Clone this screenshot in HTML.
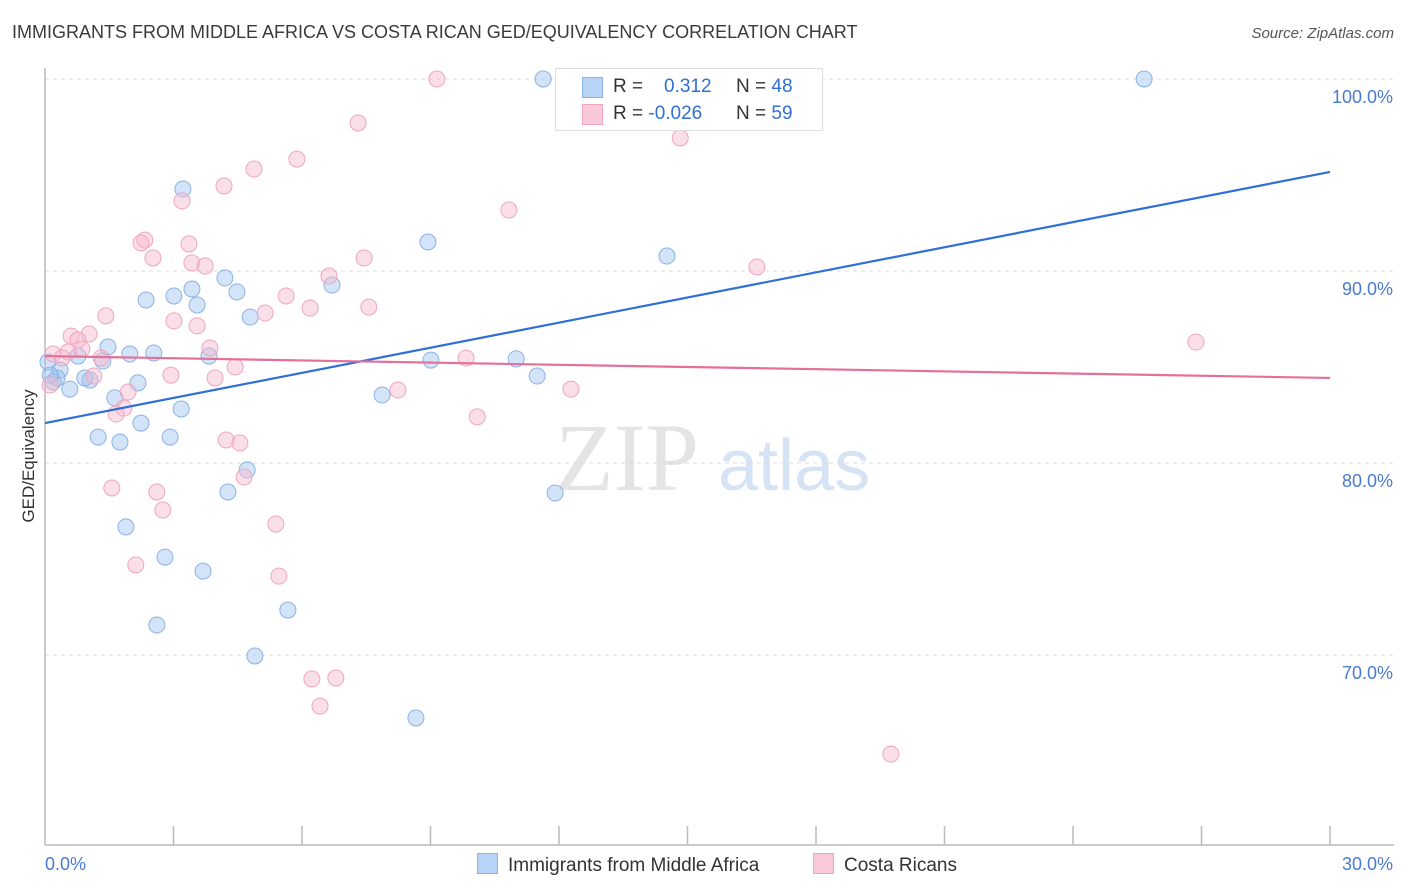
<!DOCTYPE html>
<html><head><meta charset="utf-8">
<style>
body{margin:0;background:#fff;font-family:"Liberation Sans",sans-serif;}
#wrap{position:relative;width:1406px;height:892px;overflow:hidden;}
.t{position:absolute;white-space:nowrap;}
</style></head>
<body>
<div id="wrap">
<div class="t" style="left:12px;top:22px;font-size:18px;color:#3a3a3a;">IMMIGRANTS FROM MIDDLE AFRICA VS COSTA RICAN GED/EQUIVALENCY CORRELATION CHART</div>
<div class="t" style="right:12px;top:25px;font-size:15px;color:#555;font-style:italic;">Source: ZipAtlas.com</div>
<svg id="plot" width="1406" height="892" style="position:absolute;left:0;top:0"></svg>
</div>
<script>
const yTicks=[100,90,80,70];
const yTickLabels=["100.0%","90.0%","80.0%","70.0%"];
const xTickLabels=["0.0%","30.0%"];
const blueX=[11.63,25.66,3.22,8.94,14.52,4.20,6.70,3.43,3.01,2.36,4.48,3.55,4.79,1.47,1.98,2.54,3.83,0.77,1.35,0.07,0.35,0.28,0.19,1.05,0.58,2.17,9.01,11.00,11.49,7.87,1.63,3.18,2.24,1.24,1.75,2.92,4.72,4.27,11.91,1.89,2.80,3.69,5.67,2.61,4.90,8.66,0.93,0.12];
const blueY=[100,100,94.27,91.51,90.78,89.64,89.27,89.06,88.70,88.49,88.91,88.23,87.60,86.04,85.68,85.73,85.57,85.57,85.31,85.26,84.84,84.43,84.22,84.32,83.85,84.17,85.36,85.42,84.53,83.54,83.39,82.81,82.08,81.35,81.09,81.35,79.64,78.49,78.44,76.67,75.10,74.37,72.34,71.56,69.95,66.72,84.43,84.58];
const pinkX=[9.15,7.31,14.83,5.88,4.88,4.18,3.20,10.83,2.33,2.24,3.36,2.52,3.43,3.74,7.45,6.63,16.62,5.63,6.19,7.56,5.14,1.42,3.01,3.55,0.61,1.03,0.77,3.85,0.54,0.19,0.40,0.86,1.31,9.83,4.44,2.94,1.14,3.97,1.94,8.24,12.28,1.84,1.66,10.09,4.23,4.55,4.65,1.56,2.61,2.75,5.39,2.12,5.46,6.23,6.79,6.42,19.75,26.87,0.12];
const pinkY=[100,97.71,96.93,95.83,95.31,94.43,93.65,93.18,91.61,91.46,91.41,90.68,90.42,90.26,90.68,89.74,90.21,88.70,88.07,88.12,87.81,87.66,87.40,87.14,86.61,86.72,86.41,85.99,85.78,85.68,85.47,85.94,85.47,85.47,85.0,84.58,84.53,84.43,83.70,83.80,83.85,82.86,82.55,82.40,81.20,81.04,79.27,78.70,78.49,77.55,76.82,74.69,74.11,68.75,68.80,67.34,64.84,86.30,84.06];
const blueTrend=[82.08,95.16];
const pinkTrend=[85.57,84.43];
const X=v=>45+v/30*1285;
const Y=v=>79+(100-v)*19.2;
const svg=document.getElementById('plot');
const NS='http://www.w3.org/2000/svg';
function mk(tag,attrs){const e=document.createElementNS(NS,tag);for(const k in attrs)e.setAttribute(k,attrs[k]);svg.appendChild(e);return e;}
// watermark
let w=mk('text',{x:555,y:490,'font-size':96,fill:'#e4e4e4','font-family':'Liberation Serif, serif'});w.textContent='ZIP';


let w2=mk('text',{x:718,y:490,'font-size':72,fill:'#d5e3f5','font-family':'Liberation Sans, sans-serif'});w2.textContent='atlas';


yTicks.forEach((t,i)=>{
 let g=mk('line',{x1:45,x2:1394,y1:Y(t),y2:Y(t),stroke:'#dcdcdc','stroke-dasharray':'4,4'});
 
 
 let l=mk('text',{x:1393,y:Y(t)+24,'text-anchor':'end','font-size':18,fill:'#4a7bd0'});l.textContent=yTickLabels[i];
 
 
});
let ax=mk('line',{x1:45,x2:45,y1:68,y2:845,stroke:'#bbb','stroke-width':1.5});


let bx=mk('line',{x1:45,x2:1394,y1:845,y2:845,stroke:'#bbb','stroke-width':1.5});


for(let i=1;i<=10;i++){let tk=mk('line',{x1:X(i*3),x2:X(i*3),y1:826,y2:845,stroke:'#bbb','stroke-width':1.5});
 
 }
let xl0=mk('text',{x:45,y:870,'font-size':18,fill:'#4a7bd0'});xl0.textContent=xTickLabels[0];


let xl1=mk('text',{x:1393,y:870,'font-size':18,fill:'#4a7bd0','text-anchor':'end'});xl1.textContent=xTickLabels[1];


let yt=mk('text',{x:34,y:456,'font-size':17,fill:'#333','text-anchor':'middle',transform:'rotate(-90 34 456)'});yt.textContent='GED/Equivalency';


blueX.forEach((x,i)=>{let c=mk('circle',{cx:X(x),cy:Y(blueY[i]),r:8,fill:'rgba(160,196,240,0.45)',stroke:'#8ab2e6','stroke-width':1});
 
 });
pinkX.forEach((x,i)=>{let c=mk('circle',{cx:X(x),cy:Y(pinkY[i]),r:8,fill:'rgba(246,184,204,0.45)',stroke:'#eea6bf','stroke-width':1});
 
 });
let bl=mk('line',{x1:X(0),x2:X(30),y1:Y(blueTrend[0]),y2:Y(blueTrend[1]),stroke:'#2f6fd6','stroke-width':2.2});


let pl=mk('line',{x1:X(0),x2:X(30),y1:Y(pinkTrend[0]),y2:Y(pinkTrend[1]),stroke:'#e4709a','stroke-width':2.2});


</script>
<div class="t" style="left:555px;top:68px;width:266px;height:61px;border:1px solid #ddd;background:#fff;font-size:19px;">
 <div style="position:absolute;left:26px;top:8px;width:19px;height:19px;background:#b8d3f5;border:1px solid #8ab2e6;"></div>
 <div style="position:absolute;left:26px;top:35px;width:19px;height:19px;background:#f9c9d9;border:1px solid #eea6bf;"></div>
 <div style="position:absolute;left:57px;top:7px;color:#333;">R =</div>
 <div style="position:absolute;left:108px;top:7px;color:#2f6fd6;">0.312</div>
 <div style="position:absolute;left:180px;top:7px;color:#333;">N = <span style="color:#2f6fd6">48</span></div>
 <div style="position:absolute;left:57px;top:34px;color:#333;">R = <span style="color:#2f6fd6">-0.026</span></div>
 <div style="position:absolute;left:180px;top:34px;color:#333;">N = <span style="color:#2f6fd6">59</span></div>
</div>
<div class="t" style="left:477px;top:853px;font-size:19px;color:#333;"><span style="display:inline-block;width:19px;height:19px;background:#b8d3f5;border:1px solid #8ab2e6;vertical-align:-3px;margin-right:10px;"></span>Immigrants from Middle Africa</div>
<div class="t" style="left:813px;top:853px;font-size:19px;color:#333;"><span style="display:inline-block;width:19px;height:19px;background:#f9c9d9;border:1px solid #eea6bf;vertical-align:-3px;margin-right:10px;"></span>Costa Ricans</div>
</body></html>
